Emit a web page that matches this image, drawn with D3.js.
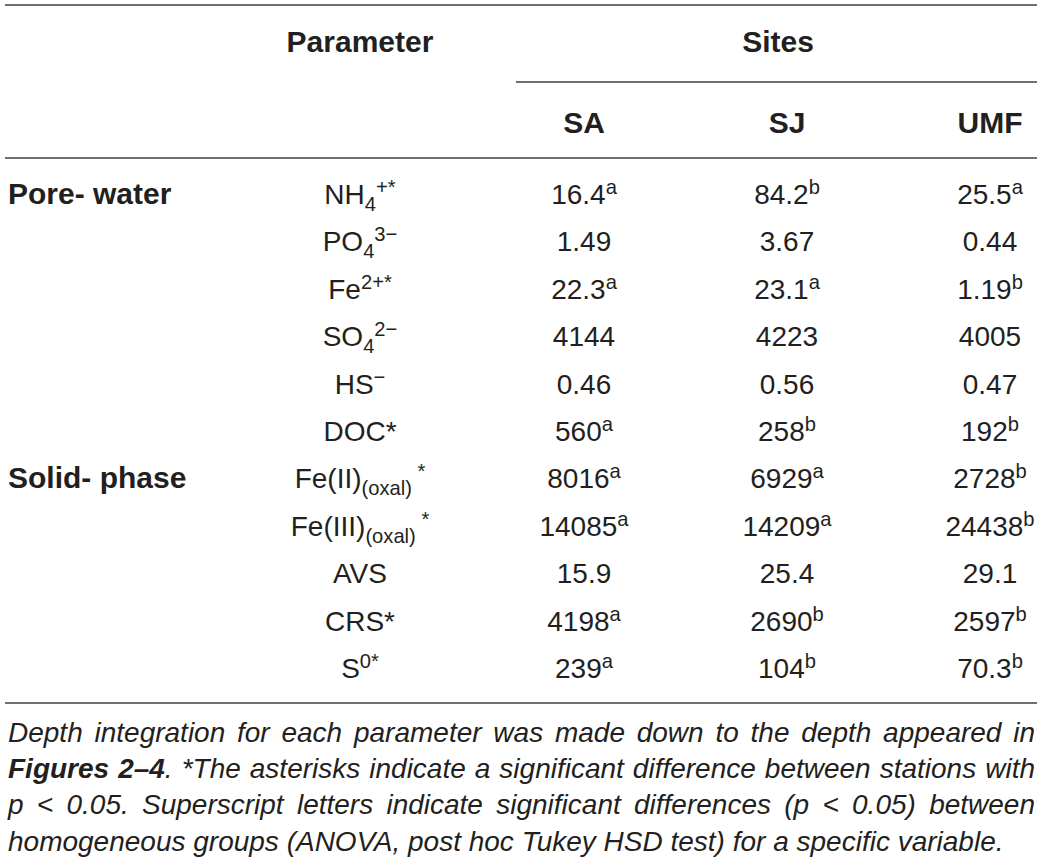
<!DOCTYPE html>
<html>
<head>
<meta charset="utf-8">
<script src="https://cdn.jsdelivr.net/npm/d3@7"></script>
<style>
  body { margin: 0; background: #fff; }
  text { font-family: "Liberation Sans", Arial, sans-serif; fill: #231f20; }
  .caption { font-family: "Liberation Sans Narrow", "Liberation Sans", Arial, sans-serif; }
</style>
</head>
<body>
<div id="table"></div>
<script>
// Table content
const width = 1041, height = 863;

const sites = ["SA", "SJ", "UMF"];
const groups = [{ name: "Pore- water", row: 0 }, { name: "Solid- phase", row: 6 }];

// parameter labels as [text, kind] segments (kind: "", "sub", "sup")
const parameters = [
    [["NH", ""], ["4", "sub"], ["+*", "sup"]],
    [["PO", ""], ["4", "sub"], ["3\u2212", "sup"]],
    [["Fe", ""], ["2+*", "sup"]],
    [["SO", ""], ["4", "sub"], ["2\u2212", "sup"]],
    [["HS", ""], ["\u2212", "sup"]],
    [["DOC*", ""]],
    [["Fe(II)", ""], ["(oxal)", "sub"], [" *", "sup"]],
    [["Fe(III)", ""], ["(oxal)", "sub"], [" *", "sup"]],
    [["AVS", ""]],
    [["CRS*", ""]],
    [["S", ""], ["0*", "sup"]]
];

const saValues  = ["16.4", "1.49", "22.3", "4144", "0.46", "560", "8016", "14085", "15.9", "4198", "239"];
const saLetters = ["a", "", "a", "", "", "a", "a", "a", "", "a", "a"];
const sjValues  = ["84.2", "3.67", "23.1", "4223", "0.56", "258", "6929", "14209", "25.4", "2690", "104"];
const sjLetters = ["b", "", "a", "", "", "b", "a", "a", "", "b", "b"];
const umfValues  = ["25.5", "0.44", "1.19", "4005", "0.47", "192", "2728", "24438", "29.1", "2597", "70.3"];
const umfLetters = ["a", "", "b", "", "", "b", "b", "b", "", "b", "b"];

const captionLines = [
    [["Depth integration for each parameter was made down to the depth appeared in", ""]],
    [["Figures 2\u20134", "bold"], [". *The asterisks indicate a significant difference between stations with", ""]],
    [["p < 0.05. Superscript letters indicate significant differences (p < 0.05) between", ""]],
    [["homogeneous groups (ANOVA, post hoc Tukey HSD test) for a specific variable.", ""]]
];

const svg = d3.select("#table").append("svg")
    .attr("width", width)
    .attr("height", height);

svg.append("rect").attr("width", width).attr("height", height).attr("fill", "#fff");

const fontSize = 28;
const boldSize = 30;

// scales
const y = d3.scalePoint().domain(d3.range(parameters.length)).range([204, 678]);
const x = d3.scalePoint().domain(sites).range([584, 990]);
const paramX = 360;

// writes segments with sub/superscripts into a text element
function richText(sel, segments) {
    let shift = 0;
    segments.forEach(([str, kind]) => {
        const target = kind === "sub" ? 7 : kind === "sup" ? -10 : 0;
        sel.append("tspan")
            .attr("dy", target - shift)
            .attr("font-size", kind ? fontSize * 0.72 : null)
            .text(str);
        shift = target;
    });
}

// rules
const rule = (x1, x2, yy) => svg.append("line")
    .attr("x1", x1).attr("x2", x2).attr("y1", yy).attr("y2", yy)
    .attr("stroke", "#707070").attr("stroke-width", 2);
rule(5, 1037, 5);
rule(516, 1037, 82);
rule(5, 1037, 158);
rule(5, 1037, 703);

// header
svg.append("text").attr("x", paramX).attr("y", 52)
    .attr("text-anchor", "middle").attr("font-size", boldSize).attr("font-weight", "bold")
    .text("Parameter");
svg.append("text").attr("x", 778).attr("y", 52)
    .attr("text-anchor", "middle").attr("font-size", boldSize).attr("font-weight", "bold")
    .text("Sites");
svg.selectAll(".site").data(sites).join("text")
    .attr("class", "site")
    .attr("x", d => x(d)).attr("y", 133)
    .attr("text-anchor", "middle").attr("font-size", boldSize).attr("font-weight", "bold")
    .text(d => d);

// group labels
svg.selectAll(".group").data(groups).join("text")
    .attr("class", "group")
    .attr("x", 8).attr("y", d => y(d.row))
    .attr("font-size", boldSize).attr("font-weight", "bold")
    .text(d => d.name);

// parameter column
parameters.forEach((segs, i) => {
    const t = svg.append("text")
        .attr("x", paramX).attr("y", y(i))
        .attr("text-anchor", "middle").attr("font-size", fontSize);
    richText(t, segs);
});

// value columns
const columns = [
    { site: "SA", values: saValues, letters: saLetters },
    { site: "SJ", values: sjValues, letters: sjLetters },
    { site: "UMF", values: umfValues, letters: umfLetters }
];
columns.forEach(col => {
    col.values.forEach((v, i) => {
        const t = svg.append("text")
            .attr("x", x(col.site)).attr("y", y(i))
            .attr("text-anchor", "middle").attr("font-size", fontSize);
        const segs = [[v, ""]];
        if (col.letters[i]) segs.push([col.letters[i], "sup"]);
        richText(t, segs);
    });
});

// caption, justified except the last line
const capY = [742, 778, 814, 851];
const capLeft = 8, capRight = 1035;
captionLines.forEach((segs, i) => {
    const t = svg.append("text")
        .attr("class", "caption")
        .attr("x", capLeft).attr("y", capY[i])
        .attr("font-size", 28).attr("font-style", "italic");
    segs.forEach(([str, kind]) => {
        t.append("tspan")
            .attr("font-weight", kind === "bold" ? "bold" : null)
            .text(str);
    });
    if (i < captionLines.length - 1) {
        const natural = t.node().getComputedTextLength();
        const spaces = segs.map(s => s[0]).join("").split(" ").length - 1;
        const extra = (capRight - capLeft - natural) / spaces;
        if (extra >= 0) t.attr("word-spacing", extra);
        else t.attr("textLength", capRight - capLeft).attr("lengthAdjust", "spacingAndGlyphs");
    }
});
</script>
</body>
</html>
